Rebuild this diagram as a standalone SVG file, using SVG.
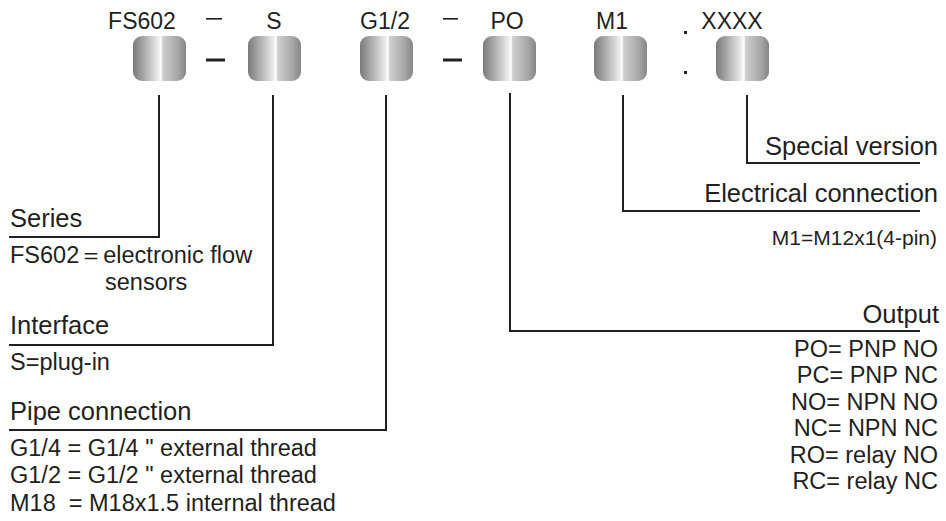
<svg xmlns="http://www.w3.org/2000/svg" width="946" height="521" viewBox="0 0 946 521">
<style>
.t{font-family:"Liberation Sans",Arial,sans-serif;fill:#231f20}
.code{font-size:23px;text-anchor:middle}
.hd{font-size:25.5px}
.ds{font-size:23.5px}
.sm{font-size:21px}
.r{text-anchor:end}
.ln{fill:none;stroke:#231f20;stroke-width:2}
.box{fill:url(#g)}
</style>
<defs>
<linearGradient id="g" x1="0" y1="0" x2="1" y2="0">
<stop offset="0" stop-color="#7a7a7a"/>
<stop offset="0.2" stop-color="#a8a8a8"/>
<stop offset="0.48" stop-color="#ececec"/>
<stop offset="0.53" stop-color="#ffffff"/>
<stop offset="0.56" stop-color="#cfcfcf"/>
<stop offset="0.85" stop-color="#a6a6a6"/>
<stop offset="1" stop-color="#858585"/>
</linearGradient>
</defs>

<g id="code-fs602">
<text class="t code" x="142" y="29">FS602</text>
<rect class="box" x="133" y="36" width="53" height="45" rx="9"/>
</g>
<g id="code-s">
<text class="t code" x="274" y="29">S</text>
<rect class="box" x="248" y="36" width="53" height="45" rx="9"/>
</g>
<g id="code-g12">
<text class="t code" x="385" y="29">G1/2</text>
<rect class="box" x="360" y="36" width="53" height="45" rx="9"/>
</g>
<g id="code-po">
<text class="t code" x="507" y="29">PO</text>
<rect class="box" x="483" y="36" width="53" height="45" rx="9"/>
</g>
<g id="code-m1">
<text class="t code" x="612" y="29">M1</text>
<rect class="box" x="594" y="36" width="53" height="45" rx="9"/>
</g>
<g id="code-xxxx">
<text class="t code" x="732" y="29">XXXX</text>
<rect class="box" x="716" y="36" width="53" height="45" rx="9"/>
</g>

<g id="separators" fill="#231f20">
<rect x="206" y="18" width="16" height="1.6"/>
<rect x="206" y="58.5" width="19" height="3"/>
<rect x="443" y="18" width="15" height="1.6"/>
<rect x="443" y="58.5" width="19" height="3"/>
<rect x="684" y="31" width="3" height="3"/>
<rect x="684" y="71" width="3" height="3"/>
</g>

<g id="connectors">
<polyline class="ln" points="159,95 159,237 9,237"/>
<polyline class="ln" points="273,95 273,345 9,345"/>
<polyline class="ln" points="386,95 386,430 9,430"/>
<polyline class="ln" points="510,93 510,331 920,331"/>
<polyline class="ln" points="623,95 623,211 920,211"/>
<polyline class="ln" points="747,95 747,163 920,163"/>
</g>

<g id="series">
<text class="t hd" x="10" y="227">Series</text>
<text class="t ds" x="10" y="263">FS602＝electronic flow</text>
<text class="t ds" x="105" y="290">sensors</text>
</g>
<g id="interface">
<text class="t hd" x="10" y="334">Interface</text>
<text class="t ds" x="10" y="370">S=plug-in</text>
</g>
<g id="pipe">
<text class="t hd" x="10" y="420">Pipe connection</text>
<text class="t ds" x="10" y="456">G1/4 = G1/4 " external thread</text>
<text class="t ds" x="10" y="483">G1/2 = G1/2 " external thread</text>
<text class="t ds" x="10" y="511" xml:space="preserve">M18  = M18x1.5 internal thread</text>
</g>
<g id="special">
<text class="t hd r" x="938" y="155">Special version</text>
</g>
<g id="electrical">
<text class="t hd r" x="938" y="202">Electrical connection</text>
<text class="t sm r" x="937" y="245">M1=M12x1(4-pin)</text>
</g>
<g id="output">
<text class="t hd r" x="939" y="323">Output</text>
<text class="t ds r" x="938" y="357">PO= PNP NO</text>
<text class="t ds r" x="938" y="383">PC= PNP NC</text>
<text class="t ds r" x="938" y="410">NO= NPN NO</text>
<text class="t ds r" x="938" y="436">NC= NPN NC</text>
<text class="t ds r" x="938" y="463">RO= relay NO</text>
<text class="t ds r" x="938" y="489">RC= relay NC</text>
</g>
</svg>
